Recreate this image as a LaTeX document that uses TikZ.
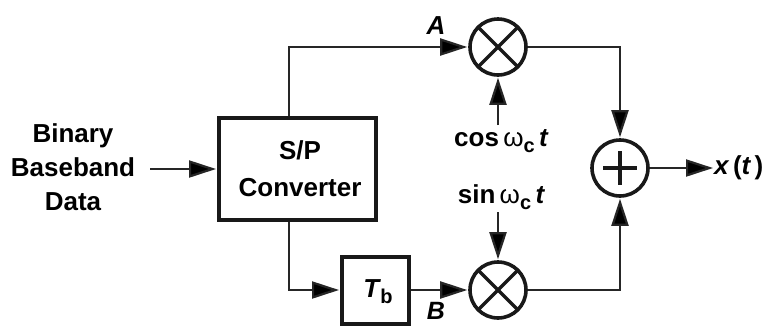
\documentclass[tikz,border=0pt]{standalone}
\usepackage{fontspec}
\setmainfont{Liberation Sans}
\usetikzlibrary{arrows.meta}
\begin{document}
\begin{tikzpicture}[x=1pt,y=-1pt,
  lbl/.style={font=\fontsize{26}{31}\selectfont\bfseries,inner sep=0pt,align=center},
  blockbox/.style={draw=black!90,line width=4pt,inner sep=0pt},
  ring/.style={circle,draw=black!90,line width=3.6pt,minimum size=56pt,inner sep=0pt},
  mixer/.style={ring,path picture={
    \draw[line width=3.4pt,black!90] (path picture bounding box.north west)--(path picture bounding box.south east);
    \draw[line width=3.4pt,black!90] (path picture bounding box.north east)--(path picture bounding box.south west);}},
  conn/.style={line width=2.2pt,draw=black!85,shorten >=1pt,-{Triangle[length=27pt,width=17pt,fill=black]}}]
\useasboundingbox[fill=white] (0,0) rectangle (768,325);
\node[lbl] (data) at (73,167) {Binary\\[3pt]Baseband\\[3pt]Data};
\node[blockbox,minimum width=157pt,minimum height=102pt] (sp) at (297.5,168.5) {};
\node[lbl] at (300,169) {S/P\\[6pt]Converter};
\node[blockbox,minimum width=67pt,minimum height=67pt] (tb) at (375.5,290) {};
\node[lbl] at (378,292) {\itshape T\kern1pt\raisebox{-6pt}{\upshape\fontsize{20}{20}\selectfont b}};
\node[mixer] (m1) at (498,47) {};
\node[mixer] (m2) at (498,290) {};
\node[ring] (sum) at (620,168) {};
\draw[line width=3.4pt,black!90] (sum.center) +(-17,0) -- +(17,0) (sum.center) +(0,-17) -- +(0,17);
\node[lbl] (la) at (436,26) {\itshape A};
\node[lbl,font=\fontsize{25}{25}\selectfont\bfseries] (lb) at (436,311) {\itshape B};
\node[lbl] (cos) at (501,141) {cos\,{\mdseries ω}\raisebox{-6pt}{\fontsize{20}{20}\selectfont c}\itshape\,t};
\node[lbl] (sin) at (501,197) {sin\,{\mdseries ω}\raisebox{-6pt}{\fontsize{20}{20}\selectfont c}\itshape\,t};
\node[lbl,anchor=west] (out) at (714,168) {\itshape x\,\upshape(\itshape t\upshape\,)};
\coordinate (v) at (289,170);
\coordinate (in) at (150,169);
\coordinate (cs) at (498,125);
\coordinate (ss) at (498,212);
\draw[conn] (in) -- (sp.west |- in);
\draw[conn] (sp.north -| v) |- (m1.west);
\draw[conn] (sp.south -| v) |- (tb.west);
\draw[conn] (tb.east) -- (m2.west);
\draw[conn] (cs) -- (m1.south);
\draw[conn] (ss) -- (m2.north);
\draw[conn] (m1.east) -| (sum.north);
\draw[conn] (m2.east) -| (sum.south);
\draw[conn] (sum.east) -- (out.west);
\end{tikzpicture}
\end{document}
